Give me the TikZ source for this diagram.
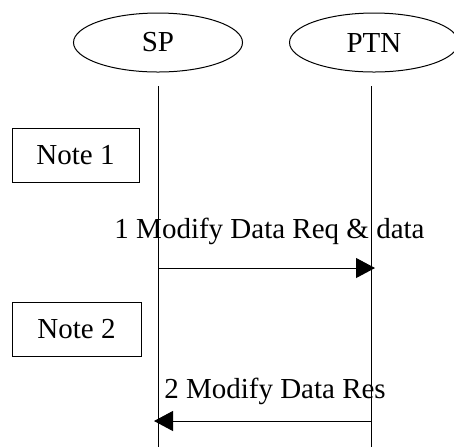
\documentclass[tikz,border=0pt]{standalone}
\usepackage{fontspec}
\setmainfont{Liberation Serif}
\usetikzlibrary{shapes.geometric,arrows.meta}
\begin{document}
\begin{tikzpicture}[x=0.5pt,y=-0.5pt,line width=0.5pt,
    font=\fontsize{14.5}{17}\selectfont,
    actor/.style={draw,ellipse,inner sep=0pt,minimum width=84.5pt,minimum height=29.5pt},
    note/.style={draw,rectangle,inner sep=0pt,minimum height=27pt},
    msg/.style={-{Triangle[length=9.5pt,width=10pt]},shorten >=-2pt}]
      \useasboundingbox (0,0) rectangle (454,447);
      \begin{scope}
        \clip (0,0) rectangle (454,447);
        \draw
          (158,42.5) node[actor] (sp){SP}
          (374,42.5) node[actor] (ptn){PTN};
      \end{scope}
      \draw
        (75.5,155) node[note,minimum width=63.5pt] (note1){Note 1}
        (76.5,329) node[note,minimum width=64.5pt] (note2){Note 2}
        (269.5,238) node[anchor=base] (label1){1 Modify Data Req \& data}
        (275,398) node[anchor=base] (label2){2 Modify Data Res};
      \coordinate (spTop) at (158,86);
      \coordinate (spEnd) at (158,447);
      \coordinate (ptnTop) at (371,86);
      \coordinate (ptnEnd) at (371,447);
      \coordinate (req1) at (158,268);
      \coordinate (req2) at (371,268);
      \coordinate (res1) at (371,421);
      \coordinate (res2) at (158,421);
      \begin{scope}[-]
        \draw (spTop) to (spEnd);
        \draw (ptnTop) to (ptnEnd);
      \end{scope}
      \draw[msg] (req1) to (req2);
      \draw[msg] (res1) to (res2);
    \end{tikzpicture}
\end{document}
